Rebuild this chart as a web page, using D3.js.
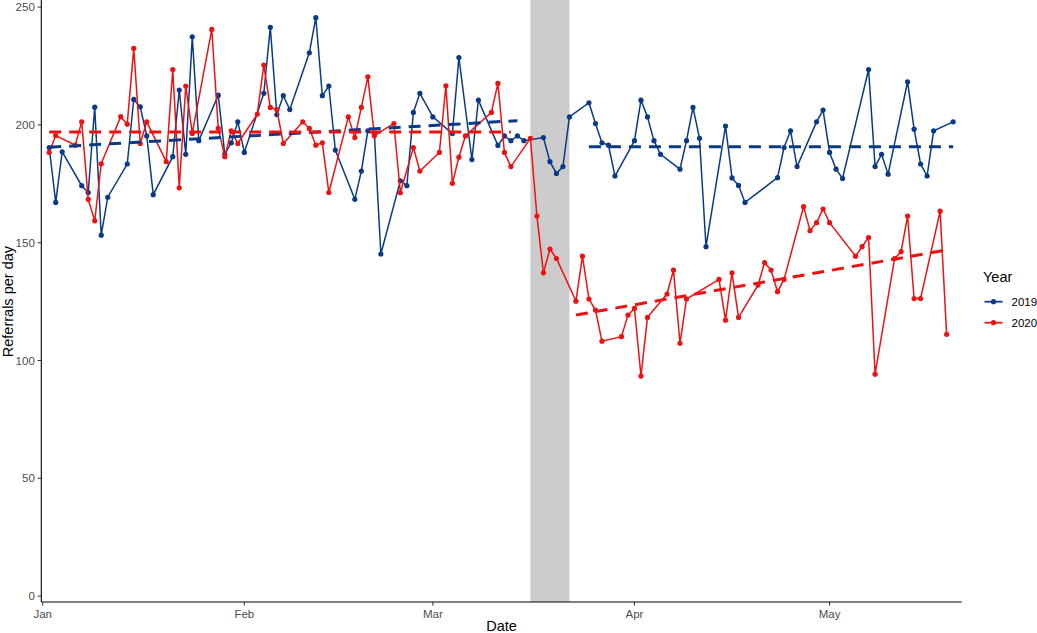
<!DOCTYPE html>
<html>
<head>
<meta charset="utf-8">
<script src="https://cdn.jsdelivr.net/npm/d3@7"></script>
<style>
  body { margin: 0; background: #fff; }
  svg text { font-family: "Liberation Sans", Arial, sans-serif; }
  .tick-label { fill: #4d4d4d; font-size: 11.5px; }
  .axis-title { fill: #000; font-size: 14.5px; }
</style>
</head>
<body>
<div id="chart"></div>
<script>
// 2019 values are plotted on the 2020 calendar (same month-day)
var dates2019 = ["01-02","01-03","01-04","01-07","01-08","01-09","01-10","01-11","01-14","01-15",
  "01-16","01-17","01-18","01-21","01-22","01-23","01-24","01-25","01-28","01-29","01-30","01-31",
  "02-01","02-04","02-05","02-06","02-07","02-08","02-11","02-12","02-13","02-14","02-15","02-18",
  "02-19","02-20","02-21","02-22","02-25","02-26","02-27","02-28","03-01","03-04","03-05","03-07",
  "03-08","03-11","03-12","03-13","03-14","03-15","03-18","03-19","03-20","03-21","03-22","03-25",
  "03-26","03-27","03-28","03-29","04-01","04-02","04-03","04-04","04-05","04-08","04-09","04-10",
  "04-11","04-12","04-15","04-16","04-17","04-18","04-23","04-24","04-25","04-26","04-29","04-30",
  "05-01","05-02","05-03","05-07","05-08","05-09","05-10","05-13","05-14","05-15","05-16","05-17","05-20"];
var values2019 = [190.4,167.1,188.6,174.2,171.3,207.5,153.2,169.3,183.4,210.8,
  207.7,195.3,170.4,186.5,214.8,187.5,237.4,193.3,212.6,187.6,192.4,201.3,
  188.3,213.4,241.4,204.4,212.4,206.5,230.6,245.5,212.4,216.5,189.3,168.4,
  180.4,197.5,196.4,145.2,176.3,174.2,205.3,213.4,203.4,196.3,228.6,185.3,
  210.5,191.3,195.3,193.3,195.3,193.3,194.6,184.4,179.4,182.3,203.4,209.4,
  200.6,192.4,191.4,178.3,193.3,210.5,203.4,193.3,187.5,181.2,193.3,207.4,
  194.3,148.3,199.5,177.5,174.3,167.1,177.6,190.4,197.5,182.3,201.3,206.3,
  188.3,181.2,177.3,223.5,182.3,187.5,179.1,218.3,198.2,183.4,178.3,197.5,201.3];

var dates2020 = ["01-02","01-03","01-06","01-07","01-08","01-09","01-10","01-13","01-14","01-15",
  "01-16","01-17","01-20","01-21","01-22","01-23","01-24","01-27","01-28","01-29","01-30","01-31",
  "02-03","02-04","02-05","02-06","02-07","02-10","02-11","02-12","02-13","02-14","02-17","02-18",
  "02-19","02-20","02-21","02-24","02-25","02-27","02-28","03-02","03-03","03-04","03-05","03-06",
  "03-10","03-11","03-12","03-13","03-16","03-17","03-18","03-19","03-20","03-23","03-24","03-25",
  "03-26","03-27","03-30","03-31","04-01","04-02","04-03","04-06","04-07","04-08","04-09","04-14",
  "04-15","04-16","04-17","04-20","04-21","04-22","04-23","04-24","04-27","04-28","04-29","04-30",
  "05-01","05-05","05-06","05-07","05-08","05-11","05-12","05-13","05-14","05-15","05-18","05-19"];
var values2020 = [188.3,195.5,191.4,201.3,168.4,159.3,183.5,203.5,200.3,232.5,
  192.1,201.3,184.4,223.5,173.3,216.5,196.4,240.5,198.5,186.5,197.5,192.1,
  204.6,225.4,207.4,206.5,192.1,201.3,198.5,191.4,192.4,171.3,203.4,194.6,
  207.4,220.4,195.4,200.6,171.2,190.4,180.4,188.3,216.6,175.2,186.3,195.3,
  205.3,217.6,188.3,182.3,194.3,161.3,137.2,147.3,143.3,125.2,144.3,126.1,
  121.4,108.2,110.1,119.3,122.1,93.4,118.3,128.2,138.4,107.3,126.1,134.4,
  117.1,137.2,118.3,132.0,141.5,138.4,129.2,134.4,165.3,155.1,158.5,164.3,
  158.5,144.3,148.3,152.2,94.2,143.3,146.2,161.3,126.3,126.3,163.4,111.1];

// dashed trend segments: [start date, end date], [start value, end value]
var trends = [
  {year: "2019", dates: ["01-02","03-14"], values: [190.5, 201.8]},
  {year: "2019", dates: ["03-25","05-20"], values: [190.7, 190.7]},
  {year: "2020", dates: ["01-02","03-13"], values: [197.0, 197.0]},
  {year: "2020", dates: ["03-23","05-19"], values: [119.3, 146.9]}
];

var shadeDates = ["03-16", "03-22"];
var years = ["2019", "2020"];
var colors = {"2019": "#0a3a86", "2020": "#ee1111"};
var yTicks = [0, 50, 100, 150, 200, 250];

var W = 1037, H = 633;
var pLeft = 41.3, pRight = 961.7, pTop = 1.2, pBottom = 602;

var parse = d3.utcParse("%Y-%m-%d");
function md(s) { return parse("2020-" + s); }

var x = d3.scaleUtc()
  .domain([md("01-01"), md("05-21")])
  .range([42.7, 42.7 + 141 * 6.503]);
var y = d3.scaleLinear()
  .domain([-2.5, 252.5])
  .range([pBottom, pTop]);

var svg = d3.select("#chart").append("svg")
  .attr("width", W).attr("height", H);
svg.append("rect").attr("width", W).attr("height", H).attr("fill", "#fff");

// shaded window
svg.append("rect")
  .attr("x", x(md(shadeDates[0])))
  .attr("width", x(md(shadeDates[1])) - x(md(shadeDates[0])))
  .attr("y", 0).attr("height", pBottom)
  .attr("fill", "#cccccc");

var series = [
  {year: "2019", pts: dates2019.map(function(d, i) { return {date: md(d), v: values2019[i]}; })},
  {year: "2020", pts: dates2020.map(function(d, i) { return {date: md(d), v: values2020[i]}; })}
];

var line = d3.line()
  .x(function(d) { return x(d.date); })
  .y(function(d) { return y(d.v); });

series.forEach(function(s) {
  var g = svg.append("g");
  g.append("path")
    .attr("d", line(s.pts))
    .attr("fill", "none")
    .attr("stroke", colors[s.year])
    .attr("stroke-width", 1.5);
  g.selectAll("circle").data(s.pts).enter()
    .append("circle")
    .attr("cx", function(d) { return x(d.date); })
    .attr("cy", function(d) { return y(d.v); })
    .attr("r", 2.6)
    .attr("fill", colors[s.year]);
});

trends.forEach(function(t) {
  svg.append("line")
    .attr("x1", x(md(t.dates[0]))).attr("x2", x(md(t.dates[1])))
    .attr("y1", y(t.values[0])).attr("y2", y(t.values[1]))
    .attr("stroke", colors[t.year])
    .attr("stroke-width", 3)
    .attr("stroke-dasharray", "12,8");
});

// axes
svg.append("line").attr("x1", pLeft).attr("x2", pLeft).attr("y1", 0).attr("y2", pBottom)
  .attr("stroke", "#000").attr("stroke-width", 1.1);
svg.append("line").attr("x1", pLeft).attr("x2", pRight).attr("y1", pBottom).attr("y2", pBottom)
  .attr("stroke", "#000").attr("stroke-width", 1.1);

yTicks.forEach(function(t) {
  svg.append("line").attr("x1", pLeft - 3.7).attr("x2", pLeft)
    .attr("y1", y(t)).attr("y2", y(t)).attr("stroke", "#333");
  svg.append("text").attr("class", "tick-label")
    .attr("x", pLeft - 6.5).attr("y", y(t)).attr("dy", "0.35em")
    .attr("text-anchor", "end").text(t);
});

x.ticks(d3.utcMonth.every(1)).forEach(function(t) {
  svg.append("line").attr("x1", x(t)).attr("x2", x(t))
    .attr("y1", pBottom).attr("y2", pBottom + 3.7).attr("stroke", "#333");
  svg.append("text").attr("class", "tick-label")
    .attr("x", x(t)).attr("y", 617.5)
    .attr("text-anchor", "middle").text(d3.utcFormat("%b")(t));
});

svg.append("text").attr("class", "axis-title")
  .attr("x", (pLeft + pRight) / 2).attr("y", 631)
  .attr("text-anchor", "middle").text("Date");
svg.append("text").attr("class", "axis-title")
  .attr("transform", "translate(13," + ((pTop + pBottom) / 2) + ") rotate(-90)")
  .attr("text-anchor", "middle").text("Referrals per day");

// legend
var lg = svg.append("g");
lg.append("text").attr("class", "axis-title").attr("x", 983).attr("y", 282).text("Year");
years.forEach(function(yr, i) {
  var cy = 301.7 + i * 21;
  lg.append("line").attr("x1", 984.5).attr("x2", 1002.5).attr("y1", cy).attr("y2", cy)
    .attr("stroke", colors[yr]).attr("stroke-width", 1.8);
  lg.append("circle").attr("cx", 993.5).attr("cy", cy).attr("r", 2.6).attr("fill", colors[yr]);
  lg.append("text").attr("x", 1011.5).attr("y", cy).attr("dy", "0.35em")
    .style("font-size", "11.5px").attr("fill", "#000").text(yr);
});
</script>
</body>
</html>
